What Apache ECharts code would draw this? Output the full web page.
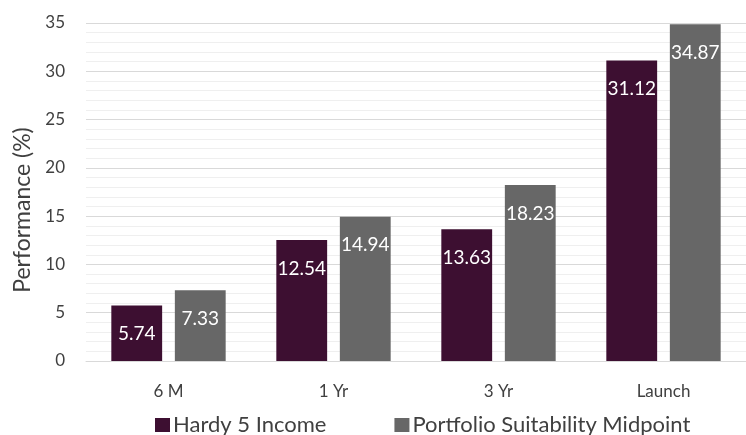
<!DOCTYPE html>
<html><head><meta charset="utf-8">
<script src="https://cdn.jsdelivr.net/npm/echarts@6/dist/echarts.min.js"></script>
<style>html,body{margin:0;padding:0;background:#fff}#c{width:746px;height:435px}</style>
</head><body><div id="c"></div>
<script>
var categories = ['6 M', '1 Yr', '3 Yr', 'Launch'];
var seriesNames = ['Hardy 5 Income', 'Portfolio Suitability Midpoint'];
var hardy = [5.74, 12.54, 13.63, 31.12];
var midpoint = [7.33, 14.94, 18.23, 34.87];
var colors = ['#3D0F31', '#676767'];
var FONT = 'Lato';
var chart = echarts.init(document.getElementById('c'), null, {renderer: 'canvas'});
function lbl() {
  return {show: true, position: 'insideTop', distance: 19, color: '#fff', fontSize: 19, fontFamily: FONT,
    formatter: function (p) { return p.value.toFixed(2); }};
}
chart.setOption({
  animation: false,
  textStyle: {fontFamily: FONT},
  grid: {left: 86, right: -3, top: 23, bottom: 74, containLabel: false},
  legend: {
    top: 414, left: 155, itemWidth: 15, itemHeight: 14, itemGap: 68, icon: 'rect', padding: 0,
    textStyle: {fontSize: 22, color: '#404040', fontFamily: FONT, padding: [0, 0, 0, -2]},
    data: seriesNames
  },
  xAxis: {
    type: 'category', data: categories,
    axisLine: {lineStyle: {color: '#d9d9d9', width: 1}},
    axisTick: {show: false},
    axisLabel: {fontSize: 17, color: '#404040', margin: 22, fontFamily: FONT}
  },
  yAxis: {
    type: 'value', min: 0, max: 35, interval: 5,
    name: 'Performance (%)', nameLocation: 'middle', nameGap: 50, nameRotate: 90,
    nameTextStyle: {fontSize: 23, color: '#404040', fontFamily: FONT, padding: [0, 36, 0, 0]},
    axisLine: {show: false}, axisTick: {show: false},
    axisLabel: {fontSize: 17, color: '#404040', margin: 21, fontFamily: FONT},
    splitLine: {lineStyle: {color: '#d9d9d9', width: 1}},
    minorTick: {show: false, splitNumber: 5},
    minorSplitLine: {show: true, lineStyle: {color: '#efefef', width: 1}}
  },
  series: [
    {name: seriesNames[0], type: 'bar', data: hardy, barWidth: '30.8%', barGap: '25%',
      itemStyle: {color: colors[0]}, label: lbl()},
    {name: seriesNames[1], type: 'bar', data: midpoint, barWidth: '30.8%', barGap: '25%',
      itemStyle: {color: colors[1]}, label: lbl()}
  ]
});
</script></body></html>
